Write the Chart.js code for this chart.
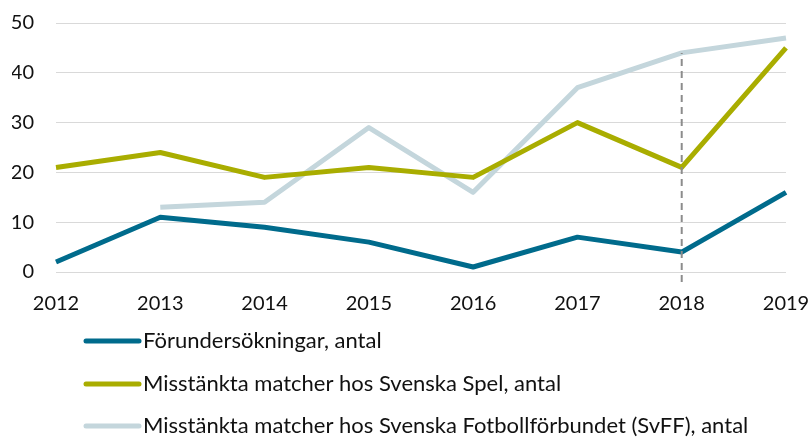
<!DOCTYPE html>
<html>
<head>
<meta charset="utf-8">
<script src="https://cdn.jsdelivr.net/npm/chart.js@4"></script>
<style>
  html, body { margin: 0; padding: 0; background: #fff; }
  #wrap { width: 811px; height: 440px; position: relative; }
</style>
</head>
<body>
<div id="wrap"><canvas id="canvas" width="811" height="440"></canvas></div>
<script>
const years = ['2012', '2013', '2014', '2015', '2016', '2017', '2018', '2019']
const forundersokningar = [2, 11, 9, 6, 1, 7, 4, 16]
const svenskaSpel = [21, 24, 19, 21, 19, 30, 21, 45]
const svff = [null, 13, 14, 29, 16, 37, 44, 47]
const markerYear = '2018'

const FONT = 'Lato'

// dashed marker line at 2018 + the vertical legend under the chart
const extras = {
    id: 'extras',
    afterDatasetsDraw(chart) {
        const {ctx, scales, chartArea} = chart
        const x = scales.x.getPixelForValue(years.indexOf(markerYear))
        const top = scales.y.getPixelForValue(svff[years.indexOf(markerYear)])
        ctx.save()
        ctx.strokeStyle = '#8c8c8c'
        ctx.lineWidth = 2
        ctx.setLineDash([7, 5])
        ctx.beginPath()
        ctx.moveTo(x, chartArea.bottom + 10)
        ctx.lineTo(x, top)
        ctx.stroke()
        ctx.restore()
    },
    afterDraw(chart) {
        const {ctx} = chart
        const rows = [341, 384, 426]
        ctx.save()
        ctx.font = '22px ' + FONT
        ctx.textBaseline = 'middle'
        chart.data.datasets.forEach((ds, i) => {
            ctx.strokeStyle = ds.borderColor
            ctx.lineWidth = 5
            ctx.lineCap = 'round'
            ctx.beginPath()
            ctx.moveTo(86, rows[i])
            ctx.lineTo(139, rows[i])
            ctx.stroke()
            ctx.fillStyle = '#111'
            ctx.fillText(ds.label, 143, rows[i])
        })
        ctx.restore()
    }
}

const chart = new Chart(document.getElementById('canvas').getContext('2d'), {
    type: 'line',
    data: {
        labels: years,
        datasets: [
            {
                label: 'Förundersökningar, antal',
                data: forundersokningar,
                borderColor: '#006b8c',
            },
            {
                label: 'Misstänkta matcher hos Svenska Spel, antal',
                data: svenskaSpel,
                borderColor: '#a9ad00',
            },
            {
                label: 'Misstänkta matcher hos Svenska Fotbollförbundet (SvFF), antal',
                data: svff,
                borderColor: '#c4d6dc',
            },
        ].map(ds => ({...ds, borderWidth: 5, pointRadius: 0, tension: 0, borderJoinStyle: 'round', fill: false})),
    },
    options: {
        responsive: false,
        animation: false,
        layout: {
            padding: {left: 12, right: 25, top: 23, bottom: 104},
        },
        plugins: {
            legend: {display: false},
            tooltip: {enabled: false},
        },
        scales: {
            x: {
                offset: false,
                grid: {display: false, drawTicks: false},
                border: {display: false},
                ticks: {
                    color: '#111',
                    font: {family: FONT, size: 20},
                    padding: 20,
                    maxRotation: 0,
                },
                afterFit(scale) {
                    scale.paddingLeft = 0
                    scale.paddingRight = 0
                },
            },
            y: {
                min: 0,
                max: 50,
                grid: {color: '#d9d9d9', lineWidth: 1, drawTicks: false},
                border: {display: false},
                ticks: {
                    stepSize: 10,
                    color: '#111',
                    font: {family: FONT, size: 20},
                    padding: 22,
                },
                afterFit(scale) {
                    scale.width = 44
                    scale.paddingTop = 0
                    scale.paddingBottom = 0
                },
            },
        },
    },
    plugins: [extras],
})
</script>
</body>
</html>
